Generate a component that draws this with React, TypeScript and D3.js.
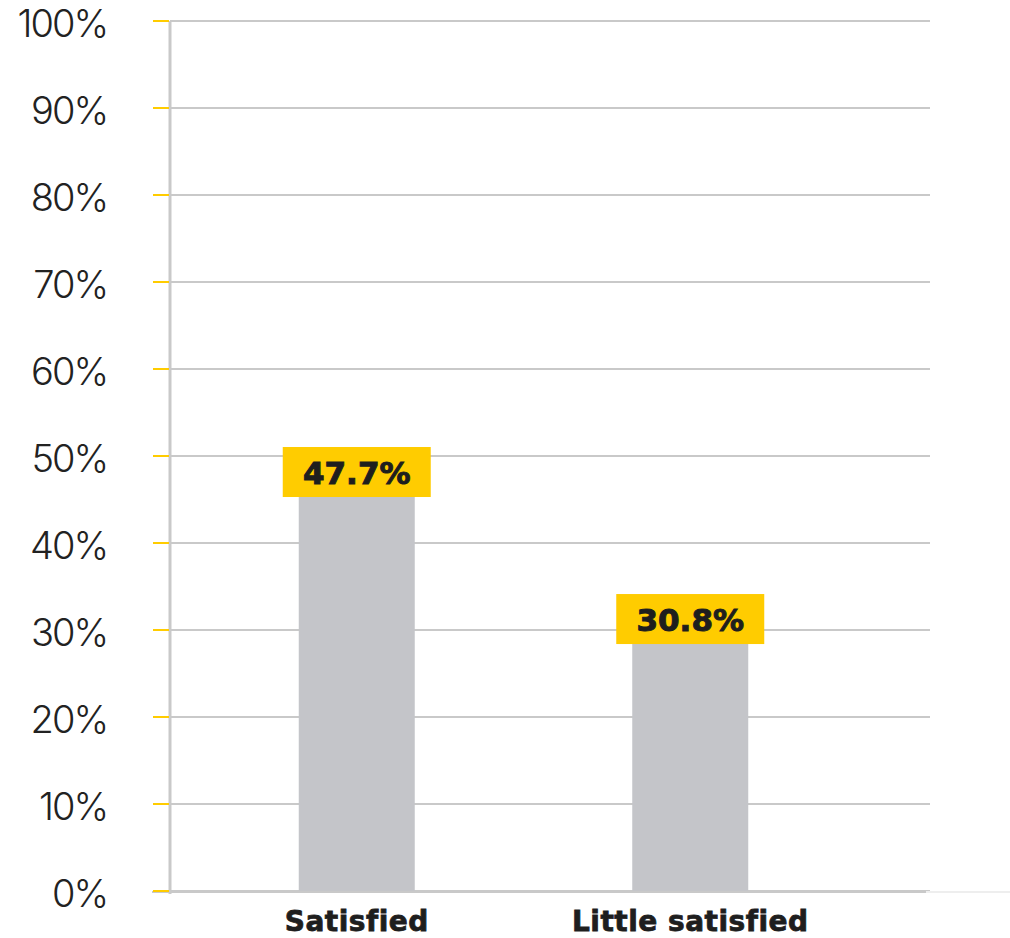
import React from "react";
import * as d3 from "d3";

const categories = ["Satisfied", "Little satisfied"];
const values = [47.7, 30.8];
const tickValues = [0, 10, 20, 30, 40, 50, 60, 70, 80, 90, 100];

const W = 1010;
const H = 938;

export default function App() {
  const y = d3.scaleLinear().domain([0, 100]).range([891, 21]);
  const x = d3.scaleBand<string>().domain(categories).range([190, 857]).paddingInner(0.0);
  const barW = 116;
  const boxW = 148;
  const boxH = 50;
  const axisX = 170;
  const gridRight = 930;

  return (
    <svg
      width={W}
      height={H}
      style={{ position: "absolute", left: 0, top: 0, background: "#fff" }}
    >
      {/* gridlines */}
      {tickValues.map((t) => (
        <line
          key={"g" + t}
          x1={axisX}
          x2={gridRight}
          y1={y(t)}
          y2={y(t)}
          stroke="#c9c9c9"
          strokeWidth={2}
        />
      ))}
      {/* faint baseline extension */}
      <line x1={926} x2={W} y1={y(0) + 1} y2={y(0) + 1} stroke="#eeeeee" strokeWidth={2} />
      <line x1={152} x2={926} y1={y(0) + 1} y2={y(0) + 1} stroke="#c9c9c9" strokeWidth={2} />
      {/* vertical axis */}
      <line x1={axisX} x2={axisX} y1={y(100)} y2={y(0) + 3} stroke="#c9c9c9" strokeWidth={3} />
      {/* yellow ticks */}
      {tickValues.map((t) => (
        <line
          key={"t" + t}
          x1={153}
          x2={169}
          y1={y(t)}
          y2={y(t)}
          stroke="#ffcc00"
          strokeWidth={2}
        />
      ))}
      {/* tick labels */}
      {tickValues.map((t) => (
        <text
          key={"l" + t}
          x={107}
          y={y(t) + 16}
          textAnchor="end"
          fontFamily="Inter, 'Open Sans', sans-serif"
          fontWeight={300}
          fontSize={38}
          letterSpacing={-2}
          fill="#222"
        >
          {t}%
        </text>
      ))}
      {/* bars */}
      {categories.map((c, i) => {
        const cx = (x(c) as number) + x.bandwidth() / 2;
        return (
          <rect
            key={"b" + c}
            x={cx - barW / 2}
            y={y(values[i])}
            width={barW}
            height={y(0) - y(values[i])}
            fill="#c4c5c9"
          />
        );
      })}
      {/* value labels */}
      {categories.map((c, i) => {
        const cx = (x(c) as number) + x.bandwidth() / 2;
        const cy = y(values[i]) - 4;
        return (
          <g key={"v" + c}>
            <rect x={cx - boxW / 2} y={cy - boxH / 2} width={boxW} height={boxH} fill="#ffcc00" />
            <text
              x={cx}
              y={cy + 12}
              textAnchor="middle"
              fontFamily="'DejaVu Sans', sans-serif"
              fontWeight={700}
              fontSize={31}
              stroke="#1e1e1e"
              strokeWidth={1}
              fill="#1e1e1e"
            >
              {values[i].toFixed(1)}%
            </text>
          </g>
        );
      })}
      {/* category labels */}
      {categories.map((c) => {
        const cx = (x(c) as number) + x.bandwidth() / 2;
        return (
          <text
            key={"c" + c}
            x={cx}
            y={931}
            textAnchor="middle"
            fontFamily="'DejaVu Sans', sans-serif"
            fontWeight={700}
            fontSize={28}
            letterSpacing={0.5}
            stroke="#1e1e1e"
            strokeWidth={0.8}
            fill="#1e1e1e"
          >
            {c}
          </text>
        );
      })}
    </svg>
  );
}
